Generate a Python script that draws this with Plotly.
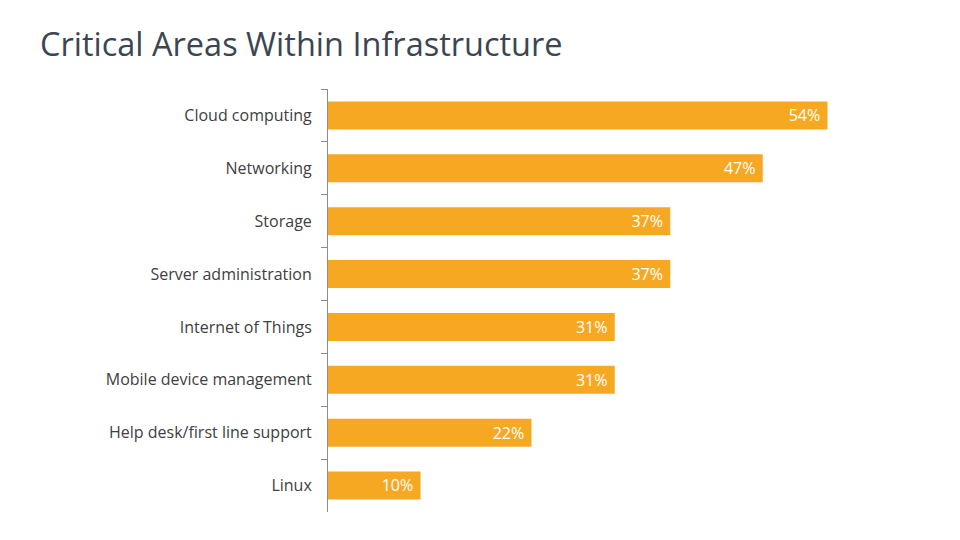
import plotly.graph_objects as go

categories = ["Cloud computing", "Networking", "Storage", "Server administration",
              "Internet of Things", "Mobile device management",
              "Help desk/first line support", "Linux"]
values = [54, 47, 37, 37, 31, 31, 22, 10]

fig = go.Figure(go.Bar(
    x=values, y=categories, orientation="h",
    marker=dict(color="#F7A823", line=dict(width=0)),
    text=[f"{v}%\u00a0" for v in values],
    textposition="inside", insidetextanchor="end",
    textfont=dict(color="white", size=19, family="Open Sans"),
    cliponaxis=False,
    hoverinfo="skip",
))

fig.update_layout(
    width=960, height=540,
    plot_bgcolor="white", paper_bgcolor="white",
    margin=dict(l=328, r=77, t=89, b=28),
    bargap=0.47,
    showlegend=False,
    title=dict(text="Critical Areas Within Infrastructure", x=40/960, xanchor="left",
               y=1-45/540, yanchor="middle",
               font=dict(family="Open Sans", size=32.5, color="#3B4653")),
    font=dict(family="Open Sans", color="#404040"),
)
fig.update_xaxes(range=[0, 60], visible=False, showgrid=False)
fig.update_yaxes(autorange="reversed", type="category", showline=True, linecolor="#8C8C8C",
                 linewidth=1, ticks="outside", tickson="boundaries", ticklen=6,
                 tickcolor="#8C8C8C", showgrid=False, ticklabelstandoff=12,
                 automargin=False,
                 tickfont=dict(size=16, color="#404040", family="Open Sans"))

fig.write_html("out.html", config={"displayModeBar": False},
               post_script="document.body.style.margin='0';document.body.style.overflow='hidden';")
